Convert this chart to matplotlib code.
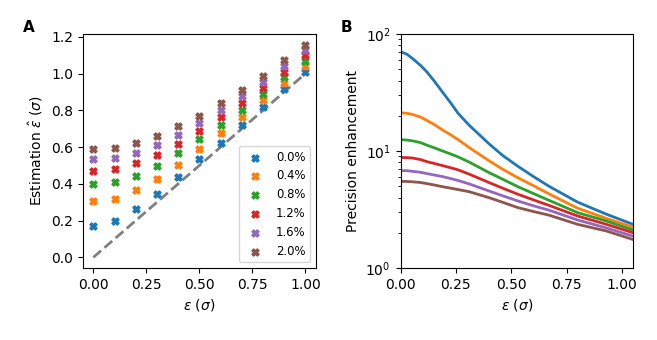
import matplotlib
matplotlib.use("Agg")
import matplotlib.pyplot as plt

# panel A: estimated epsilon vs true epsilon, one series per contamination level
eps_true = [0.0, 0.1, 0.2, 0.3, 0.4, 0.5, 0.6, 0.7, 0.8, 0.9, 1.0]
levels = ["0.0%", "0.4%", "0.8%", "1.2%", "1.6%", "2.0%"]
est_00 = [0.169, 0.198, 0.262, 0.347, 0.438, 0.533, 0.624, 0.720, 0.817, 0.917, 1.011]
est_04 = [0.305, 0.320, 0.366, 0.429, 0.504, 0.589, 0.676, 0.762, 0.855, 0.948, 1.042]
est_08 = [0.397, 0.411, 0.444, 0.498, 0.566, 0.642, 0.720, 0.802, 0.889, 0.980, 1.071]
est_12 = [0.469, 0.482, 0.511, 0.558, 0.618, 0.687, 0.762, 0.842, 0.924, 1.011, 1.100]
est_16 = [0.533, 0.542, 0.569, 0.611, 0.666, 0.729, 0.802, 0.877, 0.955, 1.042, 1.129]
est_20 = [0.591, 0.598, 0.624, 0.660, 0.713, 0.771, 0.842, 0.911, 0.989, 1.075, 1.158]
estimates = [est_00, est_04, est_08, est_12, est_16, est_20]

# panel B: precision enhancement vs epsilon
eps_curve = [0.0, 0.03, 0.055, 0.09, 0.12, 0.155, 0.19, 0.225, 0.26, 0.31, 0.4,
             0.46, 0.53, 0.6, 0.67, 0.8, 0.93, 1.05]
gain_00 = [70.5, 67.0, 61.5, 54.0, 47.2, 39.0, 31.8, 26.0, 21.0, 16.6, 11.5,
           9.2, 7.4, 6.05, 5.0, 3.65, 2.88, 2.36]
gain_04 = [21.2, 21.0, 20.5, 19.5, 18.2, 16.7, 15.1, 13.8, 12.5, 10.7, 8.24,
           7.0, 5.9, 5.05, 4.3, 3.24, 2.65, 2.23]
gain_08 = [12.5, 12.4, 12.2, 11.8, 11.2, 10.6, 10.0, 9.45, 8.9, 8.04, 6.53,
           5.75, 4.95, 4.33, 3.79, 2.97, 2.52, 2.11]
gain_12 = [8.8, 8.78, 8.7, 8.45, 8.1, 7.8, 7.5, 7.2, 6.9, 6.34, 5.37,
           4.82, 4.27, 3.82, 3.43, 2.78, 2.36, 2.00]
gain_16 = [6.8, 6.78, 6.7, 6.58, 6.4, 6.22, 6.04, 5.82, 5.6, 5.23, 4.55,
           4.15, 3.74, 3.4, 3.12, 2.57, 2.20, 1.87]
gain_20 = [5.5, 5.49, 5.45, 5.38, 5.26, 5.11, 4.95, 4.82, 4.68, 4.49, 3.99,
           3.65, 3.28, 3.04, 2.83, 2.36, 2.07, 1.75]
gains = [gain_00, gain_04, gain_08, gain_12, gain_16, gain_20]

fig = plt.figure(figsize=(6.57, 3.4), dpi=100)
ax1 = fig.add_axes([0.1259, 0.2118, 0.3550, 0.6882])
ax2 = fig.add_axes([0.6096, 0.2118, 0.3540, 0.6882])

ax1.plot([0, 1], [0, 1], ls="--", color="gray", lw=2, zorder=1)
for lab, est in zip(levels, estimates):
    ax1.scatter(eps_true, est, marker="X", s=26, label=lab, zorder=2)
ax1.set_xticks([0, 0.25, 0.5, 0.75, 1.0])
ax1.set_yticks([0.0, 0.2, 0.4, 0.6, 0.8, 1.0, 1.2])
ax1.set_xlabel(r"$\epsilon$ ($\sigma$)")
ax1.set_ylabel(r"Estimation $\hat{\epsilon}$ ($\sigma$)")
ax1.legend(loc="lower right", fontsize="small")

for g in gains:
    ax2.plot(eps_curve, g, lw=2)
ax2.set_yscale("log")
ax2.set_ylim(1, 100)
ax2.set_xlim(0, 1.05)
ax2.set_xticks([0, 0.25, 0.5, 0.75, 1.0])
ax2.set_xlabel(r"$\epsilon$ ($\sigma$)")
ax2.set_ylabel("Precision enhancement")

fig.text(0.044, 0.918, "A", fontweight="bold", fontsize=11, ha="center", va="center")
fig.text(0.527, 0.918, "B", fontweight="bold", fontsize=11, ha="center", va="center")

fig.savefig("out.png", dpi=100)
